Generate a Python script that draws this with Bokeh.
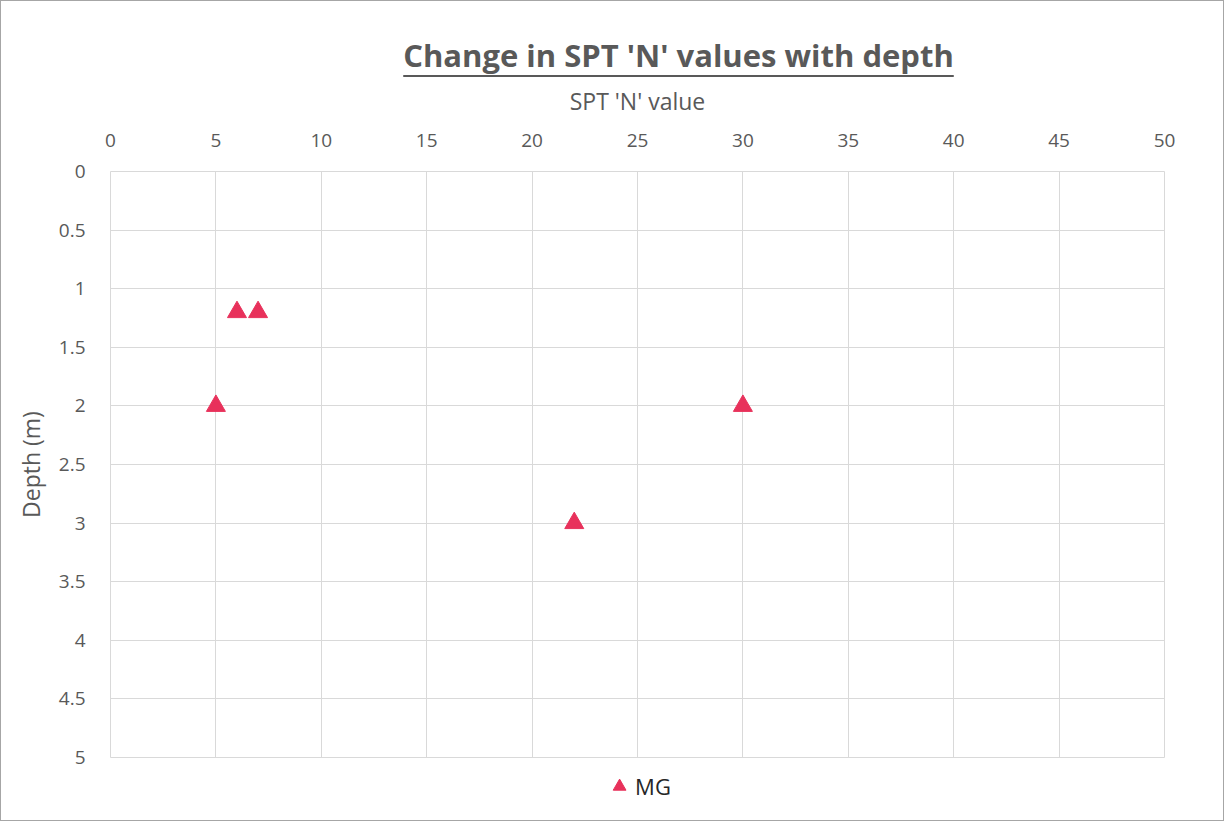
from bokeh.plotting import figure
from bokeh.models import Range1d, Legend, LegendItem, FixedTicker, Div
from bokeh.layouts import column
from bokeh.embed import file_html
from bokeh.resources import INLINE

# data
spt_n = [6, 7, 5, 30, 22]
depth = [1.2, 1.2, 2.0, 2.0, 3.0]
series_name = "MG"
chart_title = "Change in SPT 'N' values with depth"
x_ticks = [0, 5, 10, 15, 20, 25, 30, 35, 40, 45, 50]
y_ticks = [0, 0.5, 1, 1.5, 2, 2.5, 3, 3.5, 4, 4.5, 5]

FONT = "Open Sans"
GREY = "#595959"
RED = "#E8315B"
W = 1212

title_div = Div(
    width=W, height=70,
    text=(f'<div style="width:{W}px;box-sizing:border-box;padding-left:133px;'
          f'padding-top:28px;text-align:center;font-family:\'{FONT}\';'
          f'font-size:31px;font-weight:bold;color:{GREY};line-height:normal;white-space:nowrap;">'
          f'<span style="text-decoration:underline;text-decoration-thickness:2px;'
          f'text-underline-offset:8px;">{chart_title}</span></div>'))

p = figure(width=W, height=689, output_backend="svg", toolbar_location=None,
           x_range=Range1d(0, 50), y_range=Range1d(5, 0),
           x_axis_location="above",
           min_border_left=109, min_border_right=49,
           min_border_top=90, min_border_bottom=13)
p.outline_line_color = "#d9d9d9"
p.background_fill_color = "white"
p.border_fill_color = "white"

for ax in (p.xaxis[0], p.yaxis[0]):
    ax.axis_line_color = None
    ax.major_tick_line_color = None
    ax.minor_tick_line_color = None
    ax.major_label_text_font = FONT
    ax.major_label_text_font_size = "19px"
    ax.major_label_text_color = GREY
    ax.axis_label_text_font = FONT
    ax.axis_label_text_font_size = "23px"
    ax.axis_label_text_font_style = "normal"
    ax.axis_label_text_color = GREY

p.xaxis[0].ticker = FixedTicker(ticks=x_ticks)
p.yaxis[0].ticker = FixedTicker(ticks=y_ticks)
p.yaxis[0].major_label_overrides = {0: "0", 1: "1", 2: "2", 3: "3", 4: "4", 5: "5"}
p.xaxis[0].axis_label = "SPT 'N' value"
p.yaxis[0].axis_label = "Depth (m)"
p.xaxis[0].major_label_standoff = 19
p.yaxis[0].major_label_standoff = 19
p.xaxis[0].axis_label_standoff = 14
p.yaxis[0].axis_label_standoff = 9

p.xgrid.ticker = FixedTicker(ticks=x_ticks)
p.ygrid.ticker = FixedTicker(ticks=y_ticks)
p.xgrid.grid_line_color = "#d9d9d9"
p.ygrid.grid_line_color = "#d9d9d9"

p.scatter(spt_n, depth, marker="triangle", size=19, fill_color=RED, line_color=RED)

# legend strip below the chart (its data lie outside its view, only the legend shows)
pl = figure(width=W, height=50, output_backend="svg", toolbar_location=None,
            x_axis_location=None, y_axis_location=None,
            x_range=Range1d(0, 50), y_range=Range1d(-2, -1),
            min_border_left=0, min_border_right=5, min_border_top=0, min_border_bottom=18)
pl.outline_line_color = None
pl.xgrid.visible = False
pl.ygrid.visible = False
pl.border_fill_color = "white"
pl.background_fill_color = "white"
lr = pl.scatter(spt_n, depth, marker="triangle", size=19, fill_color=RED, line_color=RED)
legend = Legend(items=[LegendItem(label=series_name, renderers=[lr], index=0)],
                location="center", orientation="horizontal",
                background_fill_alpha=0, border_line_color=None,
                label_text_font=FONT, label_text_font_size="22px",
                label_text_color="#262626", glyph_width=32, glyph_height=32,
                label_height=20, label_standoff=0, margin=0, padding=0)
pl.add_layout(legend, "center")

layout = column(title_div, p, pl, spacing=0)
layout.styles = {"border": "1px solid #a6a6a6"}

open("out.html", "w").write(file_html(layout, INLINE))
